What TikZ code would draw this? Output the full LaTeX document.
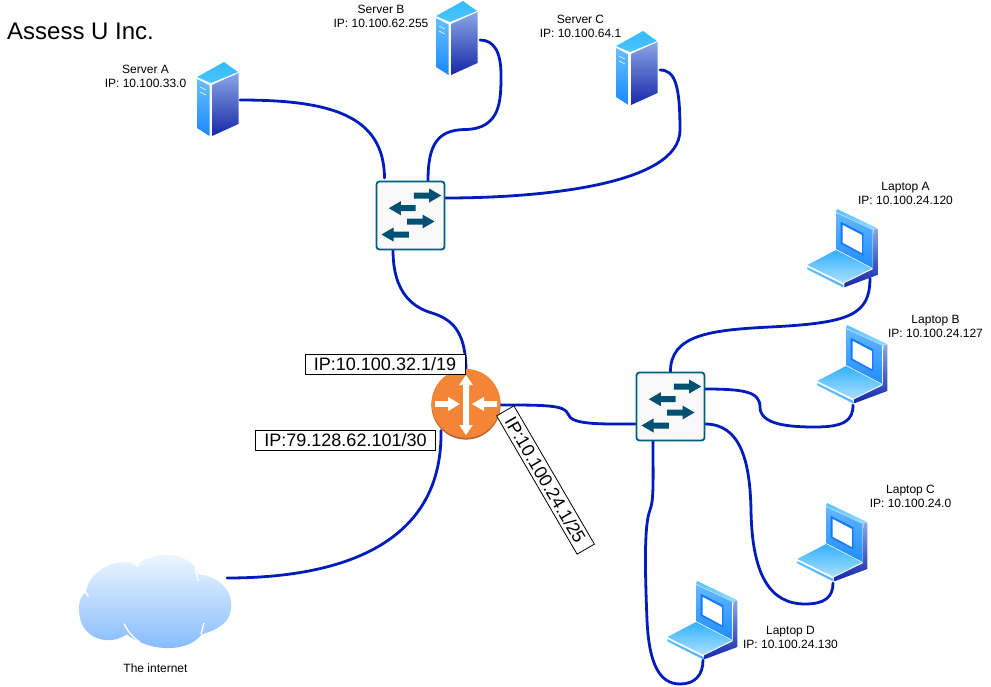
\documentclass[tikz,border=0pt]{standalone}
\usepackage{fontspec}
\setmainfont{Liberation Sans}
\usetikzlibrary{calc}
\definecolor{linkblue}{HTML}{001DBC}
\definecolor{swline}{HTML}{005F7F}
\definecolor{swarrow}{HTML}{005073}
\definecolor{routerorange}{HTML}{F58536}
\definecolor{routerdark}{HTML}{B5652D}
\definecolor{srvTopA}{HTML}{33BBFF}
\definecolor{srvTopB}{HTML}{4CC4FF}
\definecolor{srvLeftA}{HTML}{66C0FF}
\definecolor{srvLeftB}{HTML}{1A88FF}
\definecolor{sideA}{HTML}{8CA6E6}
\definecolor{sideB}{HTML}{1428A8}
\definecolor{lapEdgeA}{HTML}{55C0FF}
\definecolor{lapEdgeB}{HTML}{99DDFF}
\definecolor{lapPanelA}{HTML}{66B8FF}
\definecolor{lapPanelB}{HTML}{1E8CFF}
\definecolor{lapFrame}{HTML}{1478FF}
\definecolor{lapKeyA}{HTML}{33B0FF}
\definecolor{lapKeyB}{HTML}{A8E0FF}
\definecolor{lapFrontA}{HTML}{66C4FF}
\definecolor{lapFrontB}{HTML}{55B0FF}
\definecolor{cloudA}{HTML}{F2F9FF}
\definecolor{cloudB}{HTML}{7FB8FF}
\definecolor{swfill}{HTML}{F9F9F9}
\newcommand{\fatarrow}[7]{% x0 x1 y shaft head headlen colour
  \pgfmathsetmacro{\dirsign}{#2>#1 ? 1 : -1}
  \pgfmathsetmacro{\arrlen}{abs(#2-#1)}
  \fill[#7,shift={(#1,#3)},xscale=\dirsign] (0,-#4) -- ({\arrlen-#6},-#4) -- ({\arrlen-#6},-#5) -- (\arrlen,0) -- ({\arrlen-#6},#5) -- ({\arrlen-#6},#4) -- (0,#4) -- cycle;
}
\tikzset{
  x=1pt,y=-1pt,
  link/.style={draw=linkblue,line width=2.8pt,line cap=round},
  device/.style={inner sep=0pt,outer sep=0pt,minimum width=#1},
  caption/.style={align=center,font=\fontsize{12}{14}\selectfont,inner sep=0pt},
  tagbox/.style={draw=black,fill=white,line width=.8pt,font=\fontsize{18}{20}\selectfont,inner sep=0pt,minimum height=20pt},
  pics/server/.style={code={
    \shade[top color=srvTopA,bottom color=srvTopB] (0,15) -- (27,0) -- (41,10) -- (14,21) -- cycle;
    \shade[top color=srvLeftA,bottom color=srvLeftB] (0,17) -- (12.5,23.5) -- (12.5,74) -- (0,66) -- cycle;
    \shade[top color=sideA,bottom color=sideB] (15,23) -- (41.5,11) -- (41.5,62) -- (15,74) -- cycle;
    \draw[white,line width=.5pt] (3,25) -- (9,28) (3,30) -- (9,33);
  }},
  pics/laptop/.style={code={
    \shade[top color=lapEdgeA,bottom color=lapEdgeB] (31,1) -- (71,20) -- (67,22) -- (30,4) -- cycle;
    \shade[top color=lapPanelA,bottom color=lapPanelB] (30,4.7) -- (66.7,22) -- (66.7,60) -- (30,41) -- cycle;
    \fill[lapFrame] (34.7,13.7) -- (57.3,25.3) -- (57.3,47.5) -- (34.7,35.8) -- cycle;
    \fill[white] (36.7,17) -- (55.8,27) -- (55.8,45) -- (36.7,34.7) -- cycle;
    \shade[top color=sideA,bottom color=sideB] (67.3,22) -- (71.3,20.3) -- (71.3,67) -- (38.3,79.3) -- (38.3,75.3) -- (66.7,61.3) -- cycle;
    \shade[top color=lapKeyA,bottom color=lapKeyB] (1.3,57) -- (30,42) -- (65.7,60.3) -- (37.3,74.7) -- cycle;
    \shade[top color=lapFrontA,bottom color=lapFrontB] (1.3,59) -- (37.3,77) -- (37.3,79.5) -- (1.3,61.5) -- cycle;
  }},
  pics/switchbox/.style={code={
    \draw[swline,fill=swfill,line width=1.8pt,rounded corners=3pt] (0,0) rectangle (68,68);
    \fatarrow{37.3}{64.7}{14}{3}{7}{12}{swarrow}
    \fatarrow{39}{12.3}{26.7}{3}{7}{12}{swarrow}
    \fatarrow{30.7}{58}{40}{3}{7}{12}{swarrow}
    \fatarrow{32.3}{5}{53}{3}{7}{12}{swarrow}
  }},
  pics/routerdisc/.style={code={
    \fill[routerdark] (0,0) circle[radius=34.6pt];
    \fill[routerorange] (0,-1.6) circle[radius=34.4pt];
    \fatarrow{-31}{-6}{-1}{2.8}{7}{12}{white}
    \fatarrow{31}{6}{-1}{2.8}{7}{12}{white}
    \fill[white] (0,-30) -- (6.8,-20) -- (3,-20) -- (3,20) -- (6.8,20) -- (0,30) -- (-6.8,20) -- (-3,20) -- (-3,-20) -- (-6.8,-20) -- cycle;
  }},
  pics/cloudshape/.style={code={
    \shade[top color=cloudA,bottom color=cloudB]
      (27,190) .. controls (27,165) and (35,150) .. (48,140)
      .. controls (55,85) and (130,30) .. (205,60)
      .. controls (240,15) and (365,15) .. (385,88)
      .. controls (450,95) and (490,140) .. (483,190)
      .. controls (480,235) and (440,255) .. (395,268)
      .. controls (360,318) and (250,328) .. (170,268)
      .. controls (120,305) and (25,285) .. (27,190) -- cycle;
    \draw[white,line width=1.4pt] (45,138) -- (55,155);
    \draw[white,line width=1.4pt] (185,55) -- (207,65);
    \draw[white,line width=1.4pt] (375,70) -- (385,108);
    \draw[white,line width=1.4pt] (162,236) .. controls (175,262) and (190,278) .. (210,292);
    \draw[white,line width=1.4pt] (402,234) -- (393,268);
  }},
}
\begin{document}
\begin{tikzpicture}
\useasboundingbox (0,0) rectangle (991,686);
% device anchors
\node[device=44pt,minimum height=76pt] (srvA) at (218,100) {};
\node[device=44pt,minimum height=76pt] (srvB) at (458,40) {};
\node[device=44pt,minimum height=76pt] (srvC) at (638,70) {};
\node[device=69pt,minimum height=69pt] (swT) at (410.5,215.5) {};
\node[device=69pt,minimum height=69pt] (swR) at (670.5,406.5) {};
\node[device=69pt,minimum height=69pt,shape=circle] (router) at (466,405) {};
\node[device=148pt,minimum height=97pt] (cloud) at (153,600) {};
\node[device=72pt,minimum height=70pt] (lapA) at (842,243) {};
\node[device=72pt,minimum height=70pt] (lapB) at (852,359) {};
\node[device=72pt,minimum height=70pt] (lapC) at (832,537) {};
\node[device=72pt,minimum height=70pt] (lapD) at (702,617) {};
% connectors
\draw[link] (srvA.east) .. controls (330,100) and (384,115) .. ($(swT.north)+(-26,-3)$);
\draw[link] (srvB.east) .. controls (494,40) and (501,52) .. (501,75) .. controls (501,100) and (501,129) .. (465,129.5) .. controls (437,130) and (428,145) .. ($(swT.north)+(17.5,0)$);
\draw[link] (srvC.east) .. controls (675,70) and (680,85) .. (680,130) .. controls (680,185) and (540,198) .. ($(swT.east)+(0,-17.5)$);
\draw[link] ($(swT.south)+(-17.5,0)$) .. controls (393,295) and (415,308) .. (432,313) .. controls (455,320) and (466,335) .. ($(router.north)+(0,1)$);
\draw[link] ($(router.south)+(-25,-9)$) .. controls (443,545) and (340,578) .. ($(cloud.east)+(0,-22)$);
\draw[link] ($(router.east)+(0,0)$) .. controls (545,405) and (565,405) .. (568,414) .. controls (571,425) and (600,424) .. ($(swR.west)+(0,17.5)$);
\draw[link] ($(swR.north)+(0,-0)$) .. controls (670,335) and (710,330) .. (770,327) .. controls (850,323) and (870,315) .. ($(lapA.south)+(28,0)$);
\draw[link] ($(swR.east)+(0,-17.5)$) .. controls (745,389) and (760,392) .. (760,407) .. controls (760,425) and (790,427) .. (815,427) .. controls (845,427) and (853,420) .. ($(lapB.south)+(1,11)$);
\draw[link] ($(swR.east)+(0,17.5)$) .. controls (740,424) and (750,460) .. (751,510) .. controls (752,575) and (770,604) .. (805,604) .. controls (825,604) and (833,597) .. ($(lapC.south)+(1,11)$);
\draw[link] ($(swR.south)+(-17.5,0)$) .. controls (653,480) and (654,500) .. (650,510) .. controls (644,525) and (645,570) .. (647,620) .. controls (649,665) and (660,684) .. (680,684) .. controls (695,684) and (703,675) .. ($(lapD.south)+(1,8)$);
% drawings
\pic at (197,62) {server};
\pic at (436,1) {server};
\pic at (616,31) {server};
\pic at (376.5,181.5) {switchbox};
\pic at (636.5,372.5) {switchbox};
\pic at (466,405) {routerdisc};
\pic[scale=.3333] at (70,545) {cloudshape};
\pic at (806,208) {laptop};
\pic at (816,324) {laptop};
\pic at (796,502) {laptop};
\pic at (666,580) {laptop};
% text
\node[anchor=west,inner sep=0pt,font=\fontsize{24}{28}\selectfont] (title) at (7,31) {Assess U Inc.};
\node[caption] (capSA) at (145.5,76) {Server A\\IP: 10.100.33.0};
\node[caption] (capSB) at (381,16) {Server B\\IP: 10.100.62.255};
\node[caption] (capSC) at (580.5,26) {Server C\\IP: 10.100.64.1};
\node[caption] (capLA) at (905.5,193) {Laptop A\\IP: 10.100.24.120};
\node[caption] (capLB) at (935.5,326) {Laptop B\\IP: 10.100.24.127};
\node[caption] (capLC) at (910.5,496) {Laptop C\\IP: 10.100.24.0};
\node[caption] (capLD) at (790.5,637) {Laptop D\\IP: 10.100.24.130};
\node[caption] (capNet) at (155.5,668) {The internet};
\node[tagbox,minimum width=160pt] (ipA) at (385,364.5) {IP:10.100.32.1/19};
\node[tagbox,minimum width=180pt] (ipB) at (345.5,440.5) {IP:79.128.62.101/30};
\node[tagbox,minimum width=160pt,rotate=-59.8] (ipC) at (545.5,480) {IP:10.100.24.1/25};
\end{tikzpicture}
\end{document}
